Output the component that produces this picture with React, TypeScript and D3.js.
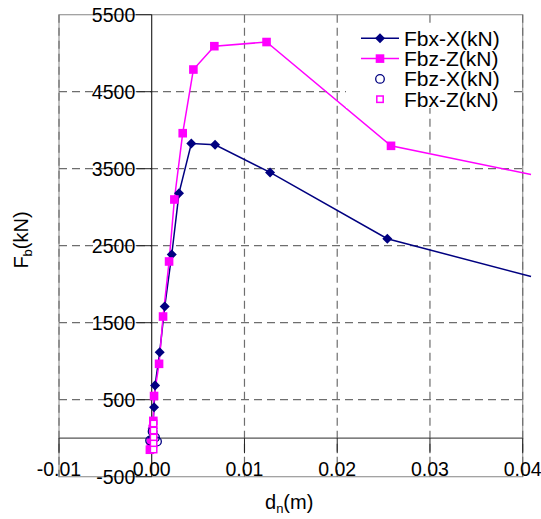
import React from "react";
import * as d3 from "d3";

// ---- data ----
const fbxXd = [0.0, 0.0001, 0.00025, 0.00036, 0.00086, 0.0014, 0.00216, 0.00294, 0.00427, 0.00683, 0.01276, 0.0254, 0.0409];
const fbxXF = [0, 130, 403, 686, 1117, 1710, 2386, 3182, 3827, 3810, 3452, 2590, 2100];

const fbzZd = [-0.0002, -0.0001, 0.0001, 0.00017, 0.00025, 0.00079, 0.00122, 0.00187, 0.00244, 0.00334, 0.00449, 0.00675, 0.01238, 0.0258, 0.0409];
const fbzZF = [-150, -60, 120, 225, 548, 966, 1580, 2295, 3100, 3961, 4788, 5091, 5145, 3797, 3425];

const fbzXd = [0.00009, 0.00036, 0.00057, -0.00018];
const fbzXF = [87, 9, -43, -30];

const fbxZd = [0.0002, 0.0002, 0.0002, 0.0002, 0.0002];
const fbxZF = [191, 100, 9, -69, -147];

const xTicks = [-0.01, 0.0, 0.01, 0.02, 0.03, 0.04];
const xTickLabels = ["-0.01", "0.00", "0.01", "0.02", "0.03", "0.04"];
const yTicks = [-500, 500, 1500, 2500, 3500, 4500, 5500];
const yTickLabels = ["-500", "500", "1500", "2500", "3500", "4500", "5500"];

const legendLabels = ["Fbx-X(kN)", "Fbz-Z(kN)", "Fbz-X(kN)", "Fbx-Z(kN)"];

const NAVY = "#000080";
const MAGENTA = "#FF00FF";
const FONT = "'Liberation Sans', Arial, sans-serif";

export default function App() {
  const W = 541, H = 519;
  const left = 59, right = 522.7, top = 14.7, bottom = 476.7;
  const x = d3.scaleLinear().domain([-0.01, 0.04]).range([left, right]);
  const y = d3.scaleLinear().domain([-500, 5500]).range([bottom, top]);

  const line = d3
    .line<[number, number]>()
    .x((p) => x(p[0]))
    .y((p) => y(p[1]));

  const s1 = fbxXd.map((d, i) => [d, fbxXF[i]] as [number, number]);
  const s2 = fbzZd.map((d, i) => [d, fbzZF[i]] as [number, number]);
  const s3 = fbzXd.map((d, i) => [d, fbzXF[i]] as [number, number]);
  const s4 = fbxZd.map((d, i) => [d, fbxZF[i]] as [number, number]);

  const diamond = d3.symbol().type(d3.symbolDiamond2).size(64)();
  const x0 = x(0);
  const yz = y(0);

  const gridColor = "#6e6e6e";

  const legX = 361, legY = 38.3, legStep = 20.3;

  return (
    <svg
      width={W}
      height={H}
      style={{ position: "absolute", left: 0, top: 0, background: "#fff" }}
      fontFamily={FONT}
    >
      <rect x={0} y={0} width={W} height={H} fill="#fff" />
      {/* plot border */}
      <rect x={left} y={top} width={right - left} height={bottom - top} fill="none" stroke="#9a9a9a" strokeWidth={1.2} />
      {/* horizontal gridlines */}
      {yTicks.slice(1, -1).map((t) => (
        <line key={"gy" + t} x1={left} x2={right} y1={y(t)} y2={y(t)} stroke={gridColor} strokeWidth={1.2} strokeDasharray="8,5" />
      ))}
      {/* vertical gridlines */}
      {xTicks.filter((t) => t !== 0).map((t) => (
        <line key={"gx" + t} x1={x(t)} x2={x(t)} y1={top} y2={bottom} stroke={gridColor} strokeWidth={1.2} strokeDasharray="8,5" />
      ))}
      {/* x axis at y = 0 */}
      <line x1={left} x2={right} y1={yz} y2={yz} stroke="#555" strokeWidth={1.2} />
      {xTicks.map((t) => (
        <line key={"tx" + t} x1={x(t)} x2={x(t)} y1={yz} y2={yz + 15} stroke="#222" strokeWidth={1} />
      ))}
      {/* y axis at x = 0 */}
      <line x1={x0} x2={x0} y1={top} y2={bottom} stroke="#000" strokeWidth={1} />
      {yTicks.map((t) => (
        <line key={"ty" + t} x1={x0 - 16} x2={x0} y1={y(t)} y2={y(t)} stroke="#222" strokeWidth={1} />
      ))}
      {/* series lines */}
      <path d={line(s1) || ""} fill="none" stroke={NAVY} strokeWidth={1.5} />
      <path d={line(s2) || ""} fill="none" stroke={MAGENTA} strokeWidth={1.5} />
      {/* markers */}
      {s1.filter((p) => p[0] <= 0.04).map((p, i) => (
        <path key={"m1" + i} d={diamond || ""} transform={`translate(${x(p[0])},${y(p[1])})`} fill={NAVY} />
      ))}
      {s2.filter((p) => p[0] <= 0.04).map((p, i) => (
        <rect key={"m2" + i} x={x(p[0]) - 4.3} y={y(p[1]) - 4.3} width={8.6} height={8.6} fill={MAGENTA} />
      ))}
      {s3.map((p, i) => (
        <circle key={"m3" + i} cx={x(p[0])} cy={y(p[1])} r={4.3} fill="none" stroke={NAVY} strokeWidth={1.3} />
      ))}
      {s4.map((p, i) => (
        <rect key={"m4" + i} x={x(p[0]) - 3.2} y={y(p[1]) - 3.2} width={6.4} height={6.4} fill="#fff" stroke={MAGENTA} strokeWidth={1.5} />
      ))}
      {/* x tick labels */}
      {xTicks.map((t, i) => (
        <text key={"lx" + t} x={x(t)} y={476} textAnchor="middle" fontSize={19.5} fill="#000">
          {xTickLabels[i]}
        </text>
      ))}
      {/* y tick labels */}
      {yTicks.map((t, i) => (
        <text key={"ly" + t} x={x0 - 16.5} y={y(t) + 7} textAnchor="end" fontSize={19.5} fill="#000">
          {yTickLabels[i]}
        </text>
      ))}
      {/* legend */}
      <rect x={346} y={26} width={166} height={82} fill="#fff" />
      <line x1={legX} x2={legX + 38} y1={legY} y2={legY} stroke={NAVY} strokeWidth={1.5} />
      <path d={diamond || ""} transform={`translate(${legX + 19},${legY})`} fill={NAVY} />
      <line x1={legX} x2={legX + 38} y1={legY + legStep} y2={legY + legStep} stroke={MAGENTA} strokeWidth={1.5} />
      <rect x={legX + 19 - 4.3} y={legY + legStep - 4.3} width={8.6} height={8.6} fill={MAGENTA} />
      <circle cx={legX + 19} cy={legY + 2 * legStep} r={4.3} fill="none" stroke={NAVY} strokeWidth={1.3} />
      <rect x={legX + 19 - 3.2} y={legY + 3 * legStep - 3.2} width={6.4} height={6.4} fill="#fff" stroke={MAGENTA} strokeWidth={1.5} />
      {legendLabels.map((l, i) => (
        <text key={"lg" + i} x={404} y={legY + i * legStep + 7.5} fontSize={21} fill="#000">
          {l}
        </text>
      ))}
      {/* axis titles */}
      <text x={265} y={509} fontSize={20} fill="#000">
        d<tspan fontSize={13} dy={4}>n</tspan>
        <tspan dy={-4}>(m)</tspan>
      </text>
      <text transform="translate(28,240) rotate(-90)" textAnchor="middle" fontSize={20} fill="#000">
        F<tspan fontSize={13} dy={4}>b</tspan>
        <tspan dy={-4}>(kN)</tspan>
      </text>
    </svg>
  );
}
